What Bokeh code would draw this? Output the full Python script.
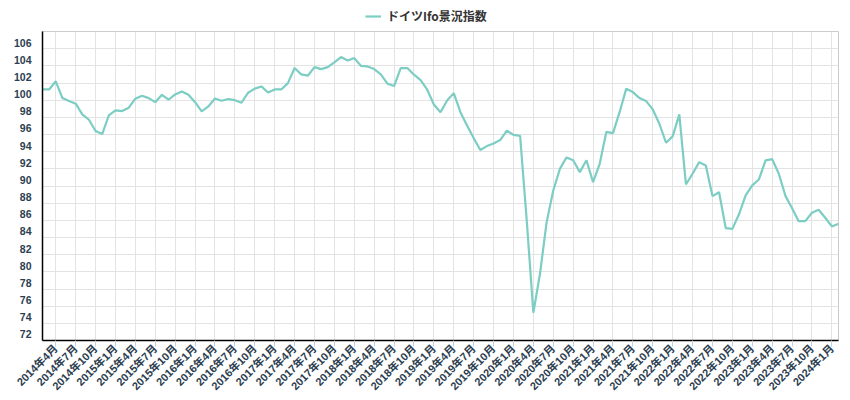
from bokeh.plotting import figure
from bokeh.models import Range1d, FixedTicker, Legend, LegendItem, ColumnDataSource
from bokeh.layouts import column
from bokeh.embed import file_html
from bokeh.resources import INLINE
import math

# ---- data ----
start_year, start_month = 2014, 2
ifo_values = [
    101.25, 101.25, 102.2, 100.24, 99.9, 99.59, 98.34, 97.72, 96.4, 96.05,
    98.22, 98.8, 98.73, 99.12, 100.17, 100.52, 100.24, 99.77, 100.63, 100.05,
    100.67, 101.02, 100.63, 99.77, 98.69, 99.27, 100.2, 99.93, 100.13, 100.0,
    99.7, 100.87, 101.34, 101.6, 100.9, 101.25, 101.25, 101.99, 103.74, 103.0,
    102.85, 103.85, 103.62, 103.85, 104.4, 105.02, 104.63, 104.9, 104.0, 103.93,
    103.62, 103.0, 101.92, 101.64, 103.74, 103.74, 102.97, 102.34, 101.22, 99.5,
    98.6, 99.97, 100.82, 98.6, 97.06, 95.58, 94.2, 94.65, 94.95, 95.35,
    96.45, 95.95, 95.85, 86.0, 75.23, 79.77, 85.79, 89.48, 92.0, 93.33,
    93.0, 91.62, 93.0, 90.45, 92.59, 96.3, 96.16, 98.6, 101.34, 100.94,
    100.24, 99.89, 98.92, 97.25, 95.04, 95.78, 98.34, 90.18, 91.43, 92.78,
    92.4, 88.82, 89.28, 85.1, 85.0, 86.7, 88.9, 90.07, 90.76, 92.98,
    93.13, 91.43, 88.85, 87.4, 85.9, 85.9, 86.88, 87.23, 86.3, 85.29,
    85.6,
]
months = []
for i in range(len(ifo_values)):
    mm = start_month - 1 + i
    months.append(f"{start_year + mm // 12}年{mm % 12 + 1}月")
month_idx = list(range(len(ifo_values)))
label_idx = [i for i, m in enumerate(months) if m.endswith(("年1月", "年4月", "年7月", "年10月"))]
y_ticks = list(range(72, 107, 2))
series_name = "ドイツIfo景況指数"

# ---- styling ----
LINE = "#7ccdc3"
TXT = "#2c3e50"
FONT = "'Liberation Sans', 'Noto Sans CJK JP'"
LABEL_SHIFT = 0.7  # labels sit slightly above their grid lines

src = ColumnDataSource(dict(x=month_idx, y=ifo_values))

# ---- legend strip above the chart ----
lg = figure(width=850, height=31, output_backend="svg", toolbar_location=None,
            x_range=Range1d(0, 1), y_range=Range1d(0, 1),
            x_axis_location=None, y_axis_location=None,
            min_border_left=0, min_border_right=0, min_border_top=0, min_border_bottom=0)
lg.grid.visible = False
lg.outline_line_color = None
lg.background_fill_color = "white"
lg.border_fill_color = "white"
nan = float("nan")
key = lg.line(x=[nan, nan], y=[nan, nan], line_color=LINE, line_width=2.2)
legend = Legend(items=[LegendItem(label=series_name, renderers=[key])],
                location=(323, 7), orientation="horizontal",
                label_text_font="'Noto Sans CJK JP'", label_text_font_style="bold",
                label_text_font_size="12px", label_text_color="#333333",
                glyph_width=16, glyph_height=14, label_height=14, label_standoff=6,
                padding=0, margin=0, border_line_color=None,
                background_fill_alpha=0)
lg.add_layout(legend, "center")

# ---- main chart ----
p = figure(width=850, height=369, output_backend="svg", toolbar_location=None,
           x_range=Range1d(0, len(ifo_values) - 1), y_range=Range1d(72, 108),
           min_border_left=42, min_border_right=12, min_border_top=0, min_border_bottom=60)
p.background_fill_color = "white"
p.border_fill_color = "white"
p.outline_line_color = "#cccccc"
p.outline_line_width = 1

p.line("x", "y", source=src, line_color=LINE, line_width=2.2)

# x axis
xa = p.xaxis[0]
xa.ticker = FixedTicker(ticks=label_idx)
xa.major_label_overrides = {i: months[i] for i in label_idx}
xa.major_label_orientation = math.pi / 4
xa.major_label_text_font = FONT
xa.major_label_text_font_style = "bold"
xa.major_label_text_font_size = "11px"
xa.major_label_text_color = TXT
xa.axis_line_color = "#000000"
xa.axis_line_width = 1.5
xa.major_tick_line_color = "#c7cfe0"
xa.major_tick_out = 6
xa.major_tick_in = 0
xa.minor_tick_line_color = None
xa.major_label_standoff = 0

# y axis
ya = p.yaxis[0]
shifted = [round(v + LABEL_SHIFT, 2) for v in y_ticks]
ya.ticker = FixedTicker(ticks=shifted)
ya.major_label_overrides = {s: str(v) for s, v in zip(shifted, y_ticks)}
ya.major_label_text_font = FONT
ya.major_label_text_font_style = "bold"
ya.major_label_text_font_size = "10.5px"
ya.major_label_text_color = TXT
ya.axis_line_color = "#000000"
ya.axis_line_width = 1.5
ya.major_tick_line_color = None
ya.minor_tick_line_color = None
ya.major_label_standoff = 5

# grids
p.xgrid.ticker = FixedTicker(ticks=label_idx)
p.ygrid.ticker = FixedTicker(ticks=y_ticks)
p.xgrid.grid_line_color = "#e3e3e3"
p.ygrid.grid_line_color = "#e3e3e3"
p.xgrid.grid_line_width = 1
p.ygrid.grid_line_width = 1

layout = column(lg, p, spacing=0)
open("out.html", "w").write(file_html(layout, INLINE))
